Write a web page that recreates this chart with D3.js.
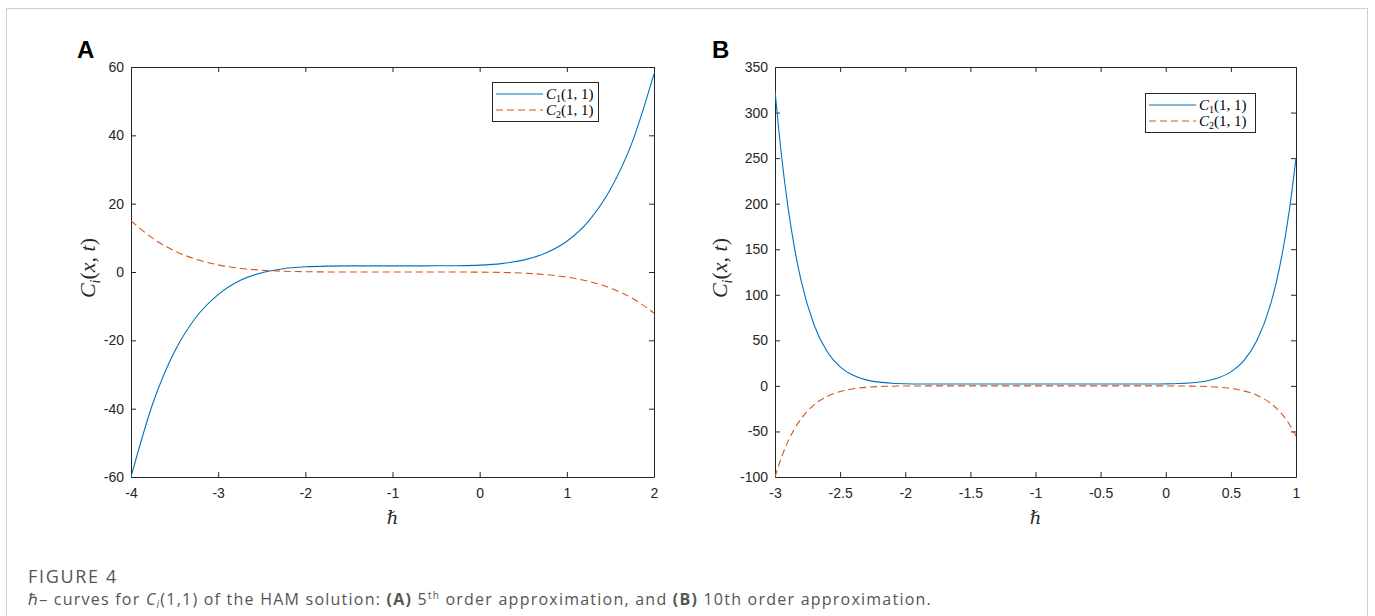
<!DOCTYPE html>
<html>
<head>
<meta charset="utf-8">
<script src="https://cdn.jsdelivr.net/npm/d3@7"></script>
<style>
  body { margin: 0; background: #fff; }
  svg text { font-family: "Liberation Sans", Arial, sans-serif; }
</style>
</head>
<body>
<div id="chart"></div>
<script>
// Panel A: 5th order approximation
var hA = [-4, -3.75, -3.5, -3.25, -3, -2.75, -2.5, -2.25, -2, -1.75, -1.5, -1.25, -1,
          -0.75, -0.5, -0.25, 0, 0.25, 0.5, 0.75, 1, 1.25, 1.5, 1.75, 2];
var c1A = [-60, -38.5, -23.3, -13.1, -6.6, -2.5, -0.2, 0.97, 1.52, 1.73, 1.79, 1.8, 1.8,
           1.8, 1.81, 1.85, 2.01, 2.46, 3.47, 5.47, 9.0, 14.9, 24.2, 38.0, 58];
var c2A = [15, 9.84, 6.19, 3.71, 2.09, 1.10, 0.53, 0.22, 0.08, 0.02, 0, 0, 0,
           0, 0, -0.01, -0.04, -0.13, -0.33, -0.75, -1.49, -2.74, -4.71, -7.69, -12];
var xTicksA = [-4, -3, -2, -1, 0, 1, 2];
var yTicksA = [-60, -40, -20, 0, 20, 40, 60];

// Panel B: 10th order approximation
var hB = [-3, -2.95, -2.9, -2.85, -2.8, -2.7, -2.6, -2.5, -2.4, -2.3, -2.2, -2.1, -2,
          -1.9, -1.8, -1.6, -1.4, -1.2, -1, -0.8, -0.6, -0.4, -0.2, -0.1, 0, 0.1,
          0.2, 0.3, 0.4, 0.5, 0.6, 0.7, 0.8, 0.85, 0.9, 0.95, 1];
var c1B = [324, 252.6, 196, 151, 115.7, 66.8, 37.7, 20.9, 11.6, 6.6, 4.1, 2.9, 2.36,
           2.13, 2.04, 2.0, 2.0, 2.0, 2.0, 2.0, 2.0, 2.0, 2.02, 2.07, 2.21, 2.56,
           3.37, 5.11, 8.6, 15.4, 27.8, 49.7, 87.2, 114.5, 149.4, 193.9, 250];
var c2B = [-100, -78.4, -60.9, -47.0, -36.1, -20.8, -11.6, -6.2, -3.2, -1.58, -0.73, -0.32, -0.13,
           -0.05, -0.02, 0, 0, 0, 0, 0, 0, 0, 0, -0.01, -0.04, -0.11,
           -0.27, -0.63, -1.36, -2.79, -5.46, -10.25, -18.5, -24.6, -32.4, -42.3, -55];
var xTicksB = [-3, -2.5, -2, -1.5, -1, -0.5, 0, 0.5, 1];
var yTicksB = [-100, -50, 0, 50, 100, 150, 200, 250, 300, 350];

var seriesNames = ["1", "2"];

var width = 1375, height = 616;
var AXIS_COLOR = "#262626";
var BLUE = "#0072BD", ORANGE = "#D95319";
var noLabel = function() { return ""; };
var plainLabel = function(d) { return String(d); };   // MATLAB uses a plain hyphen

var svg = d3.select("#chart").append("svg")
    .attr("width", width)
    .attr("height", height)
    .style("display", "block");

svg.append("rect").attr("width", width).attr("height", height).attr("fill", "#fff");

// figure frame
svg.append("rect")
    .attr("x", 6.5).attr("y", 8.5)
    .attr("width", 1361).attr("height", 640)
    .attr("fill", "none")
    .attr("stroke", "#cfcfcf")
    .attr("stroke-width", 1);

function drawPanel(cfg) {
    var x = d3.scaleLinear().domain(cfg.xDomain).range([cfg.left, cfg.right]);
    var y = d3.scaleLinear().domain(cfg.yDomain).range([cfg.bottom, cfg.top]);
    var g = svg.append("g");

    // axes with inward ticks on all four sides
    g.append("g")
        .attr("transform", "translate(0," + cfg.bottom + ")")
        .call(d3.axisBottom(x).tickValues(cfg.xTicks).tickSizeInner(-5).tickSizeOuter(0)
            .tickPadding(11).tickFormat(plainLabel));
    g.append("g")
        .attr("transform", "translate(0," + cfg.top + ")")
        .call(d3.axisTop(x).tickValues(cfg.xTicks).tickSizeInner(-5).tickSizeOuter(0)
            .tickFormat(noLabel));
    g.append("g")
        .attr("transform", "translate(" + cfg.left + ",0)")
        .call(d3.axisLeft(y).tickValues(cfg.yTicks).tickSizeInner(-5).tickSizeOuter(0)
            .tickPadding(7).tickFormat(plainLabel));
    g.append("g")
        .attr("transform", "translate(" + cfg.right + ",0)")
        .call(d3.axisRight(y).tickValues(cfg.yTicks).tickSizeInner(-5).tickSizeOuter(0)
            .tickFormat(noLabel));

    g.selectAll(".domain, .tick line")
        .attr("stroke", AXIS_COLOR)
        .attr("stroke-width", 1);
    g.selectAll(".tick text")
        .attr("fill", AXIS_COLOR)
        .style("font-family", "'Liberation Sans', Arial, sans-serif")
        .style("font-size", "14px");

    // curves
    var line = d3.line()
        .x(function(d) { return x(d[0]); })
        .y(function(d) { return y(d[1]); })
        .curve(d3.curveMonotoneX);

    var clipId = "clip" + cfg.id;
    g.append("clipPath").attr("id", clipId).append("rect")
        .attr("x", cfg.left).attr("y", cfg.top - 1)
        .attr("width", cfg.right - cfg.left).attr("height", cfg.bottom - cfg.top + 2);

    g.append("path")
        .datum(d3.zip(cfg.h, cfg.c1))
        .attr("clip-path", "url(#" + clipId + ")")
        .attr("fill", "none")
        .attr("stroke", BLUE)
        .attr("stroke-width", 1.1)
        .attr("d", line);

    g.append("path")
        .datum(d3.zip(cfg.h, cfg.c2))
        .attr("clip-path", "url(#" + clipId + ")")
        .attr("fill", "none")
        .attr("stroke", ORANGE)
        .attr("stroke-width", 1.1)
        .attr("stroke-dasharray", "7,4")
        .attr("d", line);

    // panel letter
    g.append("text")
        .attr("x", cfg.letterX).attr("y", 58)
        .style("font-size", "24px")
        .style("font-weight", "bold")
        .attr("fill", "#000")
        .text(cfg.id);

    // x label (hbar)
    g.append("text")
        .attr("x", (cfg.left + cfg.right) / 2).attr("y", 524)
        .attr("text-anchor", "middle")
        .style("font-family", "'DejaVu Serif', 'Liberation Serif', serif")
        .style("font-style", "italic")
        .style("font-size", "18px")
        .attr("fill", AXIS_COLOR)
        .text("\u210F");

    // y label C_i(x,t)
    var yl = g.append("text")
        .attr("transform", "translate(" + cfg.yLabelX + "," + ((cfg.top + cfg.bottom) / 2 - 4) + ") rotate(-90)")
        .attr("text-anchor", "middle")
        .style("font-family", "'Liberation Serif', 'DejaVu Serif', serif")
        .style("font-size", "22px")
        .attr("fill", AXIS_COLOR);
    yl.append("tspan").style("font-style", "italic").text("C");
    yl.append("tspan").style("font-style", "italic").style("font-size", "14px").attr("dy", 5).text("i");
    yl.append("tspan").attr("dy", -5).text("(");
    yl.append("tspan").style("font-style", "italic").text("x");
    yl.append("tspan").text(", ");
    yl.append("tspan").style("font-style", "italic").text("t");
    yl.append("tspan").text(")");

    // legend
    var lg = g.append("g").attr("transform", "translate(" + cfg.legend[0] + "," + cfg.legend[1] + ")");
    lg.append("rect")
        .attr("x", 0.5).attr("y", 0.5)
        .attr("width", cfg.legendW).attr("height", 39)
        .attr("fill", "#fff")
        .attr("stroke", AXIS_COLOR)
        .attr("stroke-width", 1);
    seriesNames.forEach(function(s, i) {
        var ly = 12 + i * 16;
        lg.append("line")
            .attr("x1", 4).attr("x2", 51)
            .attr("y1", ly).attr("y2", ly)
            .attr("stroke", i === 0 ? BLUE : ORANGE)
            .attr("stroke-width", 1.1)
            .attr("stroke-dasharray", i === 0 ? null : "7,4");
        var t = lg.append("text")
            .attr("x", 54).attr("y", ly + 5)
            .style("font-family", "'Liberation Serif', 'DejaVu Serif', serif")
            .style("font-size", "15px")
            .attr("fill", "#000");
        t.append("tspan").style("font-style", "italic").text("C");
        t.append("tspan").style("font-size", "10px").attr("dy", 3).text(s);
        t.append("tspan").attr("dy", -3).text("(1, 1)");
    });
}

drawPanel({
    id: "A", h: hA, c1: c1A, c2: c2A,
    xDomain: [-4, 2], yDomain: [-60, 60],
    xTicks: xTicksA, yTicks: yTicksA,
    left: 131, right: 654, top: 67, bottom: 477,
    letterX: 77, yLabelX: 95,
    legend: [492, 82], legendW: 106
});

drawPanel({
    id: "B", h: hB, c1: c1B, c2: c2B,
    xDomain: [-3, 1], yDomain: [-100, 350],
    xTicks: xTicksB, yTicks: yTicksB,
    left: 775, right: 1296, top: 67, bottom: 477,
    letterX: 712, yLabelX: 727,
    legend: [1145, 93], legendW: 110
});

// caption
var fig = svg.append("text")
    .attr("x", 28).attr("y", 583)
    .style("font-family", "'Open Sans', sans-serif")
    .style("font-size", "18px")
    .attr("fill", "#555")
    .text("FIGURE 4");
fitWidth(fig, 90);

var cap = svg.append("text")
    .attr("x", 28).attr("y", 605)
    .style("font-family", "'Open Sans', sans-serif")
    .style("font-size", "16px")
    .attr("fill", "#555");
cap.append("tspan").text("\u210F\u2013 curves for ");
cap.append("tspan").style("font-style", "italic").text("C");
cap.append("tspan").style("font-style", "italic").style("font-size", "10px").attr("dy", 3).text("i");
cap.append("tspan").attr("dy", -3).text("(1,1) of the HAM solution: ");
cap.append("tspan").style("font-weight", "bold").text("(A)");
cap.append("tspan").text(" 5");
cap.append("tspan").style("font-size", "10px").attr("dy", -6).text("th");
cap.append("tspan").attr("dy", 6).text(" order approximation, and ");
cap.append("tspan").style("font-weight", "bold").text("(B)");
cap.append("tspan").text(" 10th order approximation.");
fitWidth(cap, 904);

// spread letters so a text reaches the target width
function fitWidth(sel, target) {
    var node = sel.node();
    var len = node.getComputedTextLength();
    var n = node.textContent.length;
    if (n > 1 && len < target) {
        sel.style("letter-spacing", ((target - len) / n) + "px");
    }
}
</script>
</body>
</html>
